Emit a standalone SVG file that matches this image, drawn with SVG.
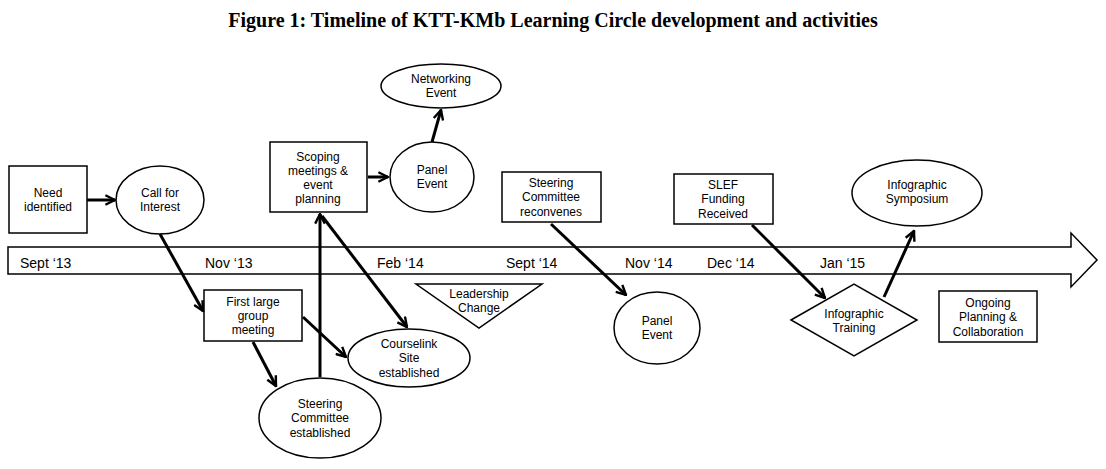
<svg xmlns="http://www.w3.org/2000/svg" width="1106" height="469" viewBox="0 0 1106 469">
<style>
.s{fill:#fff;stroke:#000;stroke-width:1.5}
.t{font-family:"Liberation Sans",Arial,sans-serif;font-size:12px;text-anchor:middle}
.m{font-family:"Liberation Sans",Arial,sans-serif;font-size:14px}
.c line{stroke:#000;stroke-width:3;marker-end:url(#a)}
</style>
<defs><marker id="a" viewBox="0 0 10 10" refX="9" refY="5" markerWidth="4" markerHeight="4" orient="auto" markerUnits="strokeWidth"><path d="M1,1 L9,5 L1,9" fill="none" stroke="#000" stroke-width="2"/></marker></defs>
<rect width="1106" height="469" fill="#fff"/>
<text x="553" y="27" text-anchor="middle" font-family="Liberation Serif,serif" font-weight="bold" font-size="20">Figure 1: Timeline of KTT-KMb Learning Circle development and activities</text>
<g id="timeline"><path class="s" d="M8,247 H1071 V233 L1097,260 L1071,287 V274 H8 Z"/>
<text class="m" x="20" y="268">Sept ‘13</text><text class="m" x="205" y="268">Nov ‘13</text><text class="m" x="377" y="268">Feb ‘14</text><text class="m" x="506" y="268">Sept ‘14</text><text class="m" x="625" y="268">Nov ‘14</text><text class="m" x="707" y="268">Dec ‘14</text><text class="m" x="820" y="268">Jan ‘15</text></g>
<g id="need"><rect class="s" x="9" y="166" width="78" height="67"/><text class="t" x="48" y="197">Need</text><text class="t" x="48" y="211">identified</text></g>
<g id="call"><ellipse class="s" cx="160" cy="200" rx="44" ry="34"/><text class="t" x="160" y="197">Call for</text><text class="t" x="160" y="211">Interest</text></g>
<g id="scoping"><rect class="s" x="270" y="142" width="97" height="70"/><text class="t" x="318" y="161">Scoping</text><text class="t" x="318" y="175">meetings &amp;</text><text class="t" x="318" y="189">event</text><text class="t" x="318" y="203">planning</text></g>
<g id="panel1"><ellipse class="s" cx="432" cy="177" rx="42" ry="35"/><text class="t" x="432" y="174">Panel</text><text class="t" x="432" y="188">Event</text></g>
<g id="networking"><ellipse class="s" cx="441" cy="86" rx="60" ry="22"/><text class="t" x="441" y="83">Networking</text><text class="t" x="441" y="97">Event</text></g>
<g id="first"><rect class="s" x="204" y="290" width="98" height="51"/><text class="t" x="253" y="306">First large</text><text class="t" x="253" y="320">group</text><text class="t" x="253" y="334">meeting</text></g>
<g id="courselink"><ellipse class="s" cx="409" cy="358" rx="61" ry="29"/><text class="t" x="409" y="348">Courselink</text><text class="t" x="409" y="362">Site</text><text class="t" x="409" y="377">established</text></g>
<g id="steering"><ellipse class="s" cx="320" cy="418" rx="61" ry="40"/><text class="t" x="320" y="408">Steering</text><text class="t" x="320" y="422">Committee</text><text class="t" x="320" y="437">established</text></g>
<g id="leadership"><polygon class="s" points="416,284 542,284 479,328"/><text class="t" x="479" y="298">Leadership</text><text class="t" x="479" y="312">Change</text></g>
<g id="reconvenes"><rect class="s" x="502" y="172" width="99" height="50"/><text class="t" x="551" y="187">Steering</text><text class="t" x="551" y="201">Committee</text><text class="t" x="551" y="216">reconvenes</text></g>
<g id="panel2"><ellipse class="s" cx="657" cy="328" rx="43" ry="36"/><text class="t" x="657" y="325">Panel</text><text class="t" x="657" y="339">Event</text></g>
<g id="slef"><rect class="s" x="674" y="174" width="99" height="50"/><text class="t" x="723" y="189">SLEF</text><text class="t" x="723" y="203">Funding</text><text class="t" x="723" y="218">Received</text></g>
<g id="symposium"><ellipse class="s" cx="917" cy="193" rx="65" ry="33"/><text class="t" x="917" y="189">Infographic</text><text class="t" x="917" y="203">Symposium</text></g>
<g id="training"><polygon class="s" points="791,320 854,284 917,320 854,356"/><text class="t" x="854" y="318">Infographic</text><text class="t" x="854" y="332">Training</text></g>
<g id="ongoing"><rect class="s" x="939" y="291" width="98" height="51"/><text class="t" x="988" y="307">Ongoing</text><text class="t" x="988" y="321">Planning &amp;</text><text class="t" x="988" y="336">Collaboration</text></g>
<g class="c" id="connectors">
<line x1="87" y1="200" x2="115" y2="200"/>
<line x1="160" y1="234" x2="203" y2="311"/>
<line x1="253" y1="342" x2="276" y2="386"/>
<line x1="303" y1="317" x2="346" y2="357"/>
<line x1="320" y1="377" x2="320" y2="214"/>
<line x1="322" y1="216" x2="407" y2="327"/>
<line x1="368" y1="177" x2="388" y2="177"/>
<line x1="432" y1="142" x2="441" y2="110"/>
<line x1="551" y1="224" x2="626" y2="295"/>
<line x1="752" y1="225" x2="825" y2="298"/>
<line x1="884" y1="297" x2="914" y2="231"/>
</g>
</svg>
